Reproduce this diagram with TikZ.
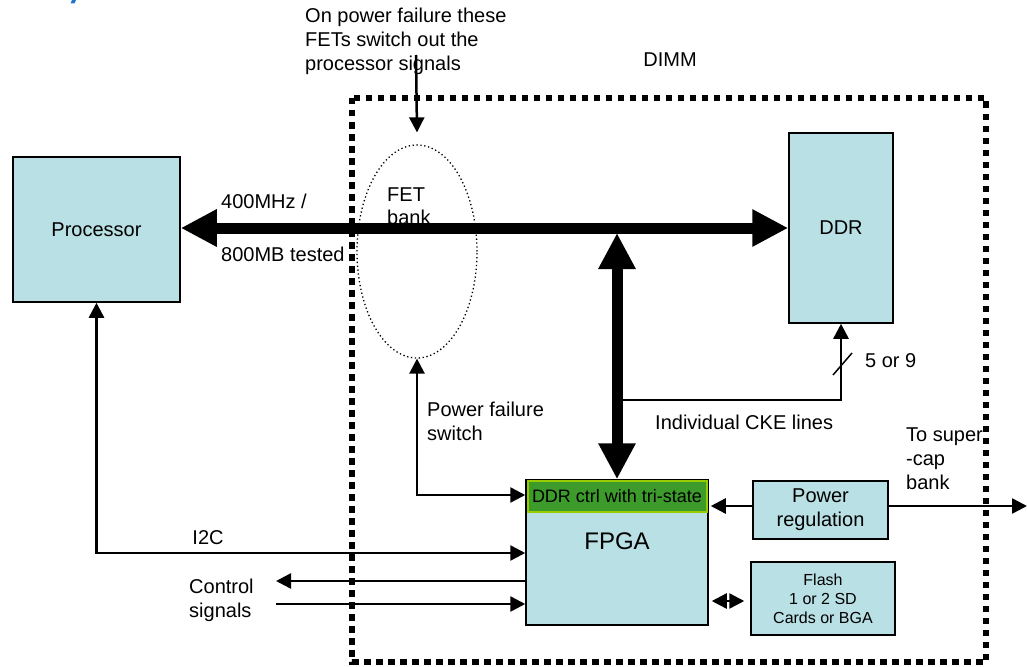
\documentclass[tikz,border=0pt]{standalone}
\usepackage{fontspec}
\setmainfont{Liberation Sans}
\usetikzlibrary{arrows.meta,shapes.geometric,calc}
\definecolor{boxblue}{RGB}{185,224,228}
\definecolor{ctrlgreen}{RGB}{60,155,42}
\definecolor{ctrledge}{RGB}{153,204,0}
\definecolor{titleblue}{RGB}{30,120,200}
\tikzset{
  txt/.style={font=\fontsize{20}{24}\selectfont, inner sep=0pt},
  box/.style={draw=black, line width=1.5pt, fill=boxblue, inner sep=0pt, font=\fontsize{20}{24}\selectfont, align=center},
  arr/.style={line width=2.5pt, -{Triangle[length=15pt,width=15pt]}},
  arrr/.style={line width=2.5pt, {Triangle[length=15pt,width=15pt]}-{Triangle[length=15pt,width=15pt]}},
  bus/.style={line width=11pt, {Triangle[length=36pt,width=35pt]}-{Triangle[length=36pt,width=35pt]}},
  dimm/.style={line width=6.5pt, dash pattern=on 6.5pt off 5.5pt},
  fetring/.style={draw, line width=1.3pt, dash pattern=on 1.3pt off 2.6pt, ellipse, inner sep=0pt}
}
\begin{document}
\begin{tikzpicture}[x=1pt,y=-1pt]
\useasboundingbox (0,0) rectangle (1027,666);
% cropped title fragment
\fill[titleblue] (70.5,3.5) -- (72,0) -- (76,0) -- (74.5,3.5) -- cycle;
% DIMM outline
\draw[dimm] (352,98) rectangle (986,662);
\node[txt] (dimmlbl) at (670,60) {DIMM};
% boxes
\node[box, minimum width=167pt, minimum height=145pt] (proc) at (96.5,229.5) {Processor};
\node[box, minimum width=104pt, minimum height=190pt] (ddr) at (841,228) {DDR};
\node[box, minimum width=182pt, minimum height=145pt] (fpga) at (617,552.5) {};
\node[txt, font=\fontsize{24}{28}\selectfont] (fpgalbl) at (617,541) {FPGA};
\node[draw=ctrledge, line width=2pt, fill=ctrlgreen, minimum width=179pt, minimum height=31pt, inner sep=0pt,
      font=\fontsize{18}{22}\selectfont] (ctrl) at (617,496.5) {DDR ctrl with tri-state};
\node[box, minimum width=135pt, minimum height=58pt] (preg) at (820.5,510) {Power\\regulation};
\node[box, minimum width=144pt, minimum height=73pt, font=\fontsize{16}{19}\selectfont] (flash) at (823,598.5) {Flash\\1 or 2 SD\\Cards or BGA};
% FET bank
\node[fetring, minimum width=120pt, minimum height=213pt] (fet) at (417,251.5) {};
\node[txt, anchor=west, align=left, font=\fontsize{20}{23}\selectfont] (fettxt) at (387,206.5) {FET\\bank};
% top annotation
\node[txt, anchor=west, align=left] (note) at (305,41) {On power failure these\\FETs switch out the\\processor signals};
\coordinate (notefoot) at (416,55);
\coordinate (fettip) at ($(fet.north)+(0,-12)$);
\draw[arr] (notefoot) -- (fettip);
% main bus
\draw[bus] (proc.east |- ddr.west) -- (ddr.west);
\node[txt, anchor=west] (freq) at (221,201) {400MHz /};
\node[txt, anchor=west] (bw) at (221,254) {800MB tested};
% vertical bus
\coordinate (vtop) at (617,233);
\draw[bus] (vtop) -- (fpga.north);
% CKE lines
\coordinate (cke) at (622,400);
\draw[arr] (cke) -| (ddr.south);
\draw[line width=1.5pt] (833,375) -- (852,353);
\node[txt, anchor=west] (ckenum) at (865,361) {5 or 9};
\node[txt, anchor=west] (ckelbl) at (655,422) {Individual CKE lines};
% power failure switch
\coordinate (pfy) at (0,495);
\draw[arrr] (fet.south) |- (fpga.west |- pfy);
\node[txt, anchor=west, align=left] (pflbl) at (427,421.5) {Power failure\\switch};
% I2C
\coordinate (i2cy) at (0,553);
\draw[arrr] (proc.south) |- (fpga.west |- i2cy);
\node[txt] (i2clbl) at (208,538) {I2C};
% control signals
\coordinate (ctlout) at (276,581);
\coordinate (ctlin) at (276,604);
\draw[arr] (fpga.west |- ctlout) -- (ctlout);
\draw[arr] (ctlin) -- (fpga.west |- ctlin);
\node[txt, anchor=west, align=left] (ctllbl) at (189,600) {Control\\signals};
% power regulation
\coordinate (pry) at (0,506);
\coordinate (supercap) at (1027,506);
\draw[arr] (preg.west |- pry) -- ([xshift=2pt]fpga.east |- pry);
\draw[arr] (preg.east |- pry) -- (supercap);
\node[txt, anchor=west, align=left] (sclbl) at (906,459) {To super\\-cap\\bank};
% flash link
\coordinate (fly) at (0,601);
\draw[arrr, shorten <=3pt, shorten >=6pt] (fpga.east |- fly) -- (flash.west |- fly);
\end{tikzpicture}
\end{document}
